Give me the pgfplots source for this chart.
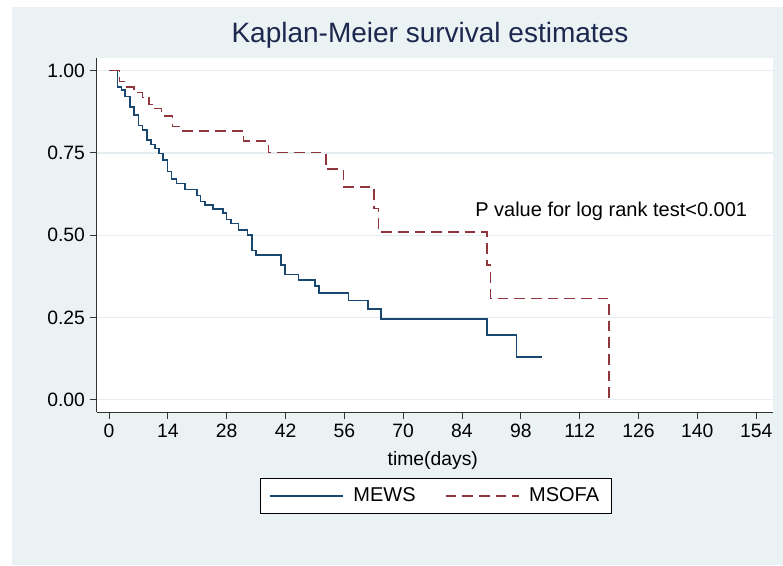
\documentclass[border=0pt]{standalone}
\usepackage{pgfplots}
\pgfplotsset{compat=1.18}
\usepackage{fontspec}
\setmainfont{Liberation Sans}
\definecolor{stbg}{RGB}{234,242,243}
\definecolor{stgrid}{RGB}{228,237,240}
\definecolor{stnavy}{RGB}{26,71,111}
\definecolor{stmaroon}{RGB}{144,53,59}
\definecolor{sttitle}{RGB}{28,40,78}
\begin{document}
\begin{tikzpicture}
\useasboundingbox (0,0) rectangle (587.25pt,423.75pt);
\fill[white] (0,0) rectangle (587.25pt,423.75pt);
\fill[stbg] (9pt,0pt) rectangle (587.25pt,418.5pt);
\begin{axis}[
  at={(72.525pt,114.75pt)}, anchor=south west,
  scale only axis, width=507.2pt, height=265.5pt,
  xmin=-2.93, xmax=158.0, ymin=-0.0377, ymax=1.0387,
  axis background/.style={fill=white},
  axis x line*=bottom, axis y line*=left,
  axis line style={draw=black!80, line width=0.75pt, -},
  tick align=outside, major tick length=5.25pt,
  tick style={draw=black!80, line width=0.75pt},
  xtick={0,14,28,42,56,70,84,98,112,126,140,154},
  xticklabels={0,14,28,42,56,70,84,98,112,126,140,154},
  ytick={0,0.25,0.5,0.75,1},
  yticklabels={0.00,0.25,0.50,0.75,1.00},
  ymajorgrids, major grid style={draw=stgrid, line width=0.9pt},
  tick label style={font=\fontsize{14.5}{17}\selectfont, text=black},
  /pgf/number format/assume math mode=true,
  every axis x label/.style={at={(axis description cs:0.497,-0.1356)}, anchor=center, font=\fontsize{14.5}{17}\selectfont},
  xlabel={time(days)},
  clip=false,
  legend columns=2,
  legend image code/.code={\draw[#1] (0pt,0pt) -- (55pt,0pt);},
  legend style={at={(0.501,-0.2366)}, anchor=center, draw=black, fill=white,
    inner xsep=7pt, inner ysep=5pt,
    /tikz/every odd column/.append style={column sep=5pt},
    /tikz/every even column/.append style={column sep=20pt},
    font=\fontsize{15}{18}\selectfont},
]
\addplot[const plot, stnavy, line width=1.15pt] coordinates {
(0,1) (2,0.951) (3,0.941) (3.8,0.921) (5,0.890) (6,0.865) (7,0.833) (8,0.819)
(9,0.789) (10,0.776) (11,0.764) (11.9,0.749) (12.9,0.728) (13.9,0.693) (14.9,0.670)
(16.1,0.657) (18.1,0.639) (20.9,0.620) (21.8,0.603) (22.9,0.591) (24.8,0.579)
(27.1,0.567) (28,0.547) (29,0.536) (30.8,0.515) (33,0.501) (34,0.453) (35,0.439)
(40.9,0.409) (41.9,0.381) (45.1,0.363) (49,0.345) (50,0.324) (57,0.302) (61.6,0.276)
(64.7,0.245) (90,0.196) (97,0.130) (103,0.130)
};
\addlegendentry{MEWS}
\addplot[const plot, stmaroon, line width=1.15pt, dash pattern=on 8pt off 4.5pt] coordinates {
(0,1) (2.5,0.967) (4,0.951) (6,0.934) (8,0.918) (9.5,0.898) (11,0.885) (12.5,0.868)
(13.3,0.863) (15.1,0.830) (17,0.817) (32,0.787) (37.9,0.752) (51.6,0.701) (55.8,0.647)
(63.1,0.581) (64.1,0.510) (89.9,0.409) (90.8,0.307) (119,0)
};
\addlegendentry{MSOFA}
\node[anchor=center, font=\fontsize{15}{18}\selectfont] at (axis cs:119.5,0.573) {P value for log rank test<0.001};
\node[anchor=base, font=\fontsize{21}{25}\selectfont, text=sttitle] at (axis description cs:0.4928,1.0438) {Kaplan-Meier survival estimates};
\end{axis}
\end{tikzpicture}
\end{document}
